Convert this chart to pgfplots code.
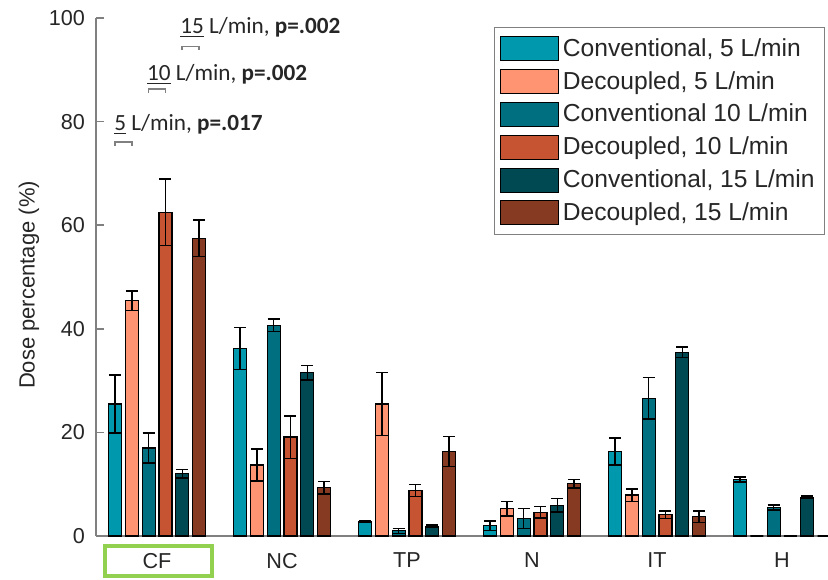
\documentclass[border=0pt]{standalone}
\usepackage{pgfplots}
\pgfplotsset{compat=1.18}
\usepackage{pgfplotstable}
\usepackage{fontspec}
\setmainfont{Liberation Sans}
\newfontfamily\calibri{Carlito}
\definecolor{c5}{RGB}{0,152,172}
\definecolor{d5}{RGB}{255,148,114}
\definecolor{c10}{RGB}{0,112,128}
\definecolor{d10}{RGB}{198,84,50}
\definecolor{c15}{RGB}{0,72,82}
\definecolor{d15}{RGB}{134,58,34}
\definecolor{txt}{RGB}{38,38,38}
\definecolor{axgray}{RGB}{128,128,128}
\definecolor{boxgreen}{RGB}{146,208,80}

\pgfplotstableread{
x y e
0 25.5 5.6
1 36.2 4.0
2 2.8 0.2
3 2.0 0.9
4 16.3 2.6
5 10.9 0.5
}\convA
\pgfplotstableread{
x y e
0 45.4 1.9
1 13.7 3.1
2 25.5 6.1
3 5.3 1.4
4 7.9 1.2
5 0 0.1
}\decA
\pgfplotstableread{
x y e
0 17.0 2.9
1 40.7 1.2
2 1.0 0.5
3 3.4 1.9
4 26.6 4.0
5 5.5 0.5
}\convB
\pgfplotstableread{
x y e
0 62.5 6.4
1 19.1 4.1
2 8.8 1.2
3 4.6 1.1
4 4.1 0.7
5 0 0.1
}\decB
\pgfplotstableread{
x y e
0 12.0 0.8
1 31.5 1.4
2 1.9 0.2
3 5.9 1.3
4 35.5 1.0
5 7.5 0.2
}\convC
\pgfplotstableread{
x y e
0 57.5 3.5
1 9.3 1.2
2 16.3 2.9
3 10.1 0.8
4 3.7 1.1
5 0 0.1
}\decC

\pgfplotsset{
  mybar/.style={ybar, bar width=0.104, bar shift=0, draw=black, line width=0.6pt,
    error bars/y dir=both, error bars/y explicit,
    error bars/error bar style={black, line width=0.7pt},
    error bars/error mark options={black, line width=0.7pt, mark size=3pt, rotate=90}},
}

\begin{document}
\begin{tikzpicture}
\useasboundingbox (0,0) rectangle (414pt,289.5pt);
\begin{axis}[
  scale only axis, width=366pt, height=259pt,
  at={(48pt,21.5pt)}, anchor=south west,
  xmin=-0.488, xmax=5.368, ymin=0, ymax=100,
  axis x line*=bottom, axis y line*=left,
  axis line style={axgray, line width=0.8pt},
  xtick={0,...,5}, xticklabels={CF,NC,TP,N,IT,H},
  x tick style={draw=none},
  ytick={0,20,...,100},
  tick align=inside, major tick length=4pt,
  y tick style={axgray, line width=0.8pt},
  /pgf/number format/assume math mode=true,
  tick label style={font=\fontsize{10.8}{12}\selectfont, text=txt},
  xticklabel style={yshift=-5pt},
  yticklabel style={xshift=-2pt},
  ylabel={Dose percentage (\%)},
  ylabel style={font=\fontsize{11}{12}\selectfont, text=txt, yshift=-2pt, xshift=-4pt},
  clip=false,
  legend style={at={(1,1)}, anchor=north east, xshift=-1.5pt, yshift=-4.5pt,
    draw=axgray, font=\fontsize{12.3}{14}\selectfont, text=txt,
    row sep=2pt, inner xsep=3pt, inner ysep=3.5pt},
  legend cell align=left,
  legend image code/.code={\draw[#1, draw=black, line width=0.5pt] (0pt,-6pt) rectangle (29pt,6pt);},
]
\addplot[mybar, fill=c5] table[x expr=\thisrow{x}-0.336, y=y, y error=e] {\convA};
\addlegendentry{Conventional, 5 L/min}
\addplot[mybar, fill=d5] table[x expr=\thisrow{x}-0.2016, y=y, y error=e] {\decA};
\addlegendentry{Decoupled, 5 L/min}
\addplot[mybar, fill=c10] table[x expr=\thisrow{x}-0.0672, y=y, y error=e] {\convB};
\addlegendentry{Conventional 10 L/min}
\addplot[mybar, fill=d10] table[x expr=\thisrow{x}+0.0672, y=y, y error=e] {\decB};
\addlegendentry{Decoupled, 10 L/min}
\addplot[mybar, fill=c15] table[x expr=\thisrow{x}+0.2016, y=y, y error=e] {\convC};
\addlegendentry{Conventional, 15 L/min}
\addplot[mybar, fill=d15] table[x expr=\thisrow{x}+0.336, y=y, y error=e] {\decC};
\addlegendentry{Decoupled, 15 L/min}

% significance brackets
\draw[axgray, line width=0.8pt] (axis cs:-0.336,75.3) -- (axis cs:-0.336,76.1) -- (axis cs:-0.2016,76.1) -- (axis cs:-0.2016,75.3);
\draw[axgray, line width=0.8pt] (axis cs:-0.0672,85.6) -- (axis cs:-0.0672,86.3) -- (axis cs:0.0672,86.3) -- (axis cs:0.0672,85.6);
\draw[axgray, line width=0.8pt] (axis cs:0.2016,93.8) -- (axis cs:0.2016,94.5) -- (axis cs:0.336,94.5) -- (axis cs:0.336,93.8);
\node[anchor=base west, inner sep=0pt, font=\calibri\fontsize{11.6}{13}\selectfont, text=txt]
  at (axis cs:-0.344,78.2) {\underline{5} L/min, \textbf{p=.017}};
\node[anchor=base west, inner sep=0pt, font=\calibri\fontsize{11.6}{13}\selectfont, text=txt]
  at (axis cs:-0.082,88.0) {\underline{10} L/min, \textbf{p=.002}};
\node[anchor=base west, inner sep=0pt, font=\calibri\fontsize{11.6}{13}\selectfont, text=txt]
  at (axis cs:0.184,97.1) {\underline{15} L/min, \textbf{p=.002}};
% highlight box around CF
\draw[boxgreen, line width=2pt] (axis cs:-0.418,-1.93) rectangle (axis cs:0.44,-7.72);
\end{axis}
\end{tikzpicture}
\end{document}
